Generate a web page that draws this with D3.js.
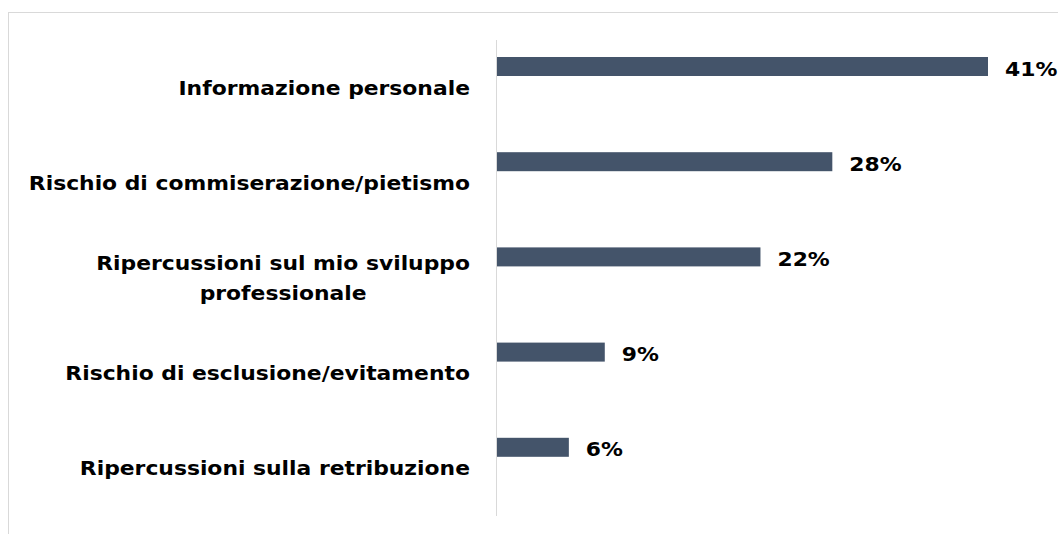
<!DOCTYPE html>
<html><head><meta charset="utf-8">
<script src="https://cdn.jsdelivr.net/npm/d3@7"></script>
<style>body{margin:0;background:#fff;} svg{display:block;}</style>
</head><body>
<svg id="chart" width="1058" height="534"></svg>
<script>
const categories = [
  ["Informazione personale"],
  ["Rischio di commiserazione/pietismo"],
  ["Ripercussioni sul mio sviluppo", "professionale"],
  ["Rischio di esclusione/evitamento"],
  ["Ripercussioni sulla retribuzione"]
];
const values = [41, 28, 22, 9, 6];
const valueLabels = ["41%", "28%", "22%", "9%", "6%"];

const svg = d3.select("#chart");
const font = "DejaVu Sans, Verdana, sans-serif";
const sx = 1.15;

svg.append("rect").attr("x", 8.5).attr("y", 12.5).attr("width", 1200).attr("height", 600)
  .attr("fill", "none").attr("stroke", "#d9d9d9");

const keys = categories.map(c => c.join(" "));
const y = d3.scaleBand().domain(keys).range([40, 516]);
const x = d3.scaleLinear().domain([0, 41]).range([497, 988]);

svg.selectAll("rect.bar").data(values).join("rect").attr("class", "bar")
  .attr("x", x(0)).attr("y", (d, i) => y(keys[i]) + 17)
  .attr("width", d => x(d) - x(0)).attr("height", 19)
  .attr("fill", "#44546a");

svg.append("line").attr("x1", x(0) - 0.5).attr("x2", x(0) - 0.5).attr("y1", 40).attr("y2", 516)
  .attr("stroke", "#d9d9d9");

svg.selectAll("g.val").data(values).join("g").attr("class", "val")
  .attr("transform", (d, i) => `translate(${x(d) + 17},${y(keys[i]) + 29}) scale(${sx},1)`)
  .append("text")
  .attr("dy", "0.35em").attr("font-family", font).attr("font-weight", "bold")
  .attr("font-size", 19).attr("fill", "#000").text((d, i) => valueLabels[i]);

const labelRight = 470;
categories.forEach((lines, i) => {
  const cy = y(keys[i]) + 48;
  const g = svg.append("g");
  const texts = lines.map((l, j) => g.append("text")
    .attr("y", (j - (lines.length - 1) / 2) * 30)
    .attr("dy", "0.35em").attr("font-family", font).attr("font-weight", "bold")
    .attr("font-size", 19).attr("fill", "#000").text(l));
  const maxW = d3.max(texts, t => t.node().getComputedTextLength());
  texts.forEach(t => t.attr("text-anchor", "middle").attr("x", -maxW / 2));
  g.attr("transform", `translate(${labelRight},${cy}) scale(${sx},1)`);
});
</script>
</body></html>
